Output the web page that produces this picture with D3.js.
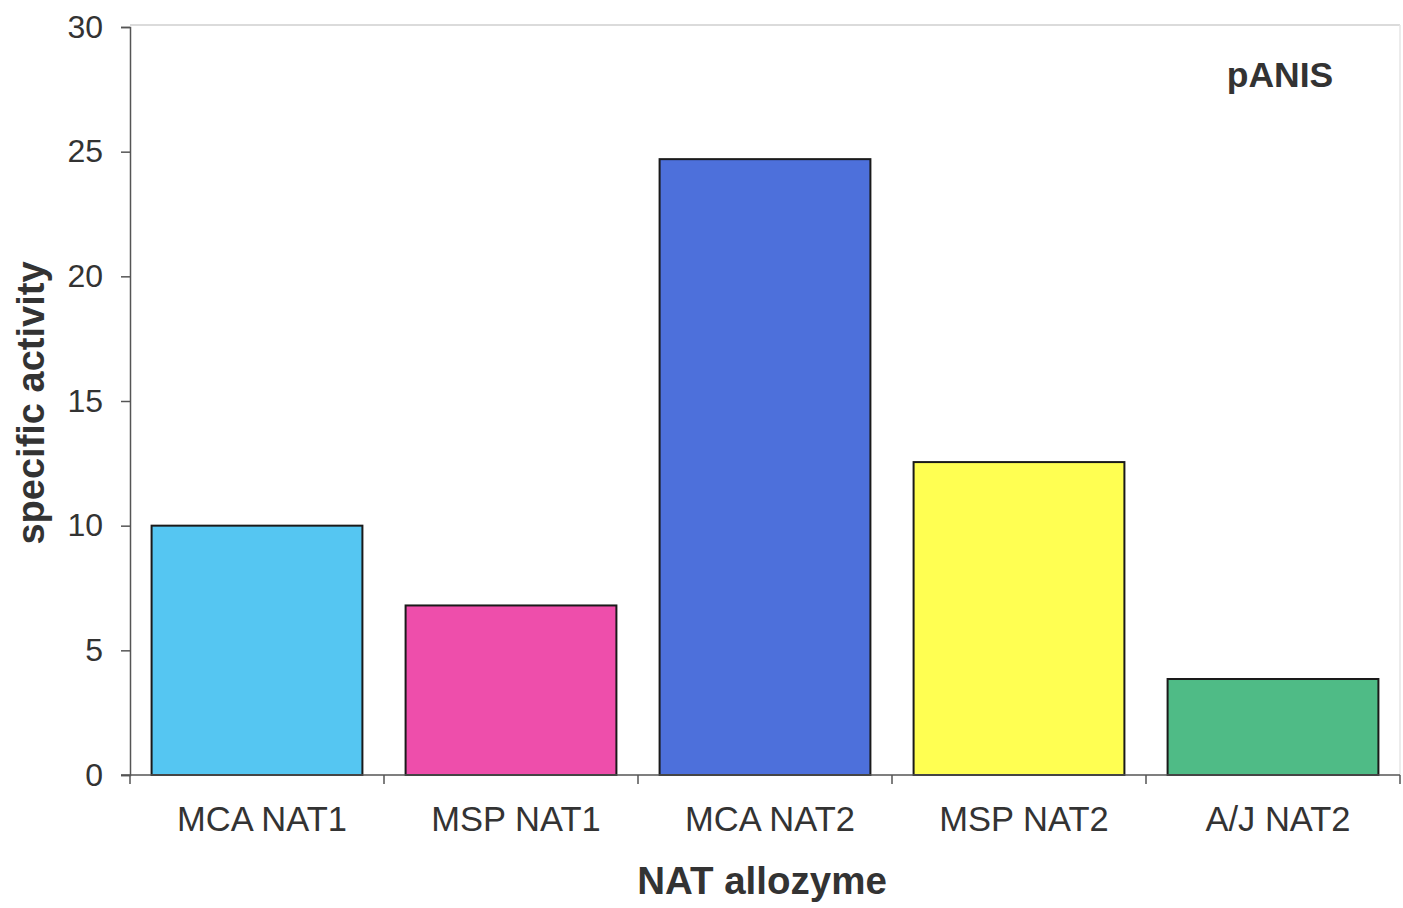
<!DOCTYPE html>
<html>
<head>
<meta charset="utf-8">
<script src="https://d3js.org/d3.v7.min.js"></script>
<style>
  html, body { margin: 0; padding: 0; background: #fff; }
  svg { display: block; }
</style>
</head>
<body>
<script>
const categories = ["MCA NAT1", "MSP NAT1", "MCA NAT2", "MSP NAT2", "A/J NAT2"];
const values = [10.0, 6.8, 24.7, 12.55, 3.85];
const colors = ["#55c6f2", "#ee4eab", "#4d70db", "#ffff52", "#4fbb86"];
const yTicks = [0, 5, 10, 15, 20, 25, 30];
const seriesLabel = "pANIS";
const xTitle = "NAT allozyme";
const yTitle = "specific activity";

(function () {
const W = 1403, H = 908;
const mLeft = 130, mRight = 1400, mTop = 27, mBottom = 775;

const svg = d3.select("body").append("svg").attr("width", W).attr("height", H);

const x = d3.scaleBand().domain(categories).range([mLeft, mRight]).paddingInner(0.17).paddingOuter(0.085);
const y = d3.scaleLinear().domain([0, 30]).range([mBottom, mTop]);

// frame (top and right light borders)
svg.append("line").attr("x1", mLeft).attr("x2", mRight).attr("y1", mTop - 2).attr("y2", mTop - 2)
  .attr("stroke", "#cfcfcf").attr("stroke-width", 1.5);
svg.append("line").attr("x1", mRight).attr("x2", mRight).attr("y1", mTop - 2).attr("y2", mBottom)
  .attr("stroke", "#e6e6e6").attr("stroke-width", 1.5);

// bars
svg.selectAll("rect.bar").data(categories).enter().append("rect")
  .attr("class", "bar")
  .attr("x", d => x(d))
  .attr("width", x.bandwidth())
  .attr("y", (d, i) => y(values[i]))
  .attr("height", (d, i) => y(0) - y(values[i]))
  .attr("fill", (d, i) => colors[i])
  .attr("stroke", "#1a1a1a")
  .attr("stroke-width", 2);

// y axis
const yAxis = d3.axisLeft(y).tickValues(yTicks).tickSize(9).tickPadding(18).tickFormat(d3.format("d"));
const gy = svg.append("g").attr("transform", `translate(${mLeft},0)`).call(yAxis);
gy.select(".domain").attr("stroke", "#555").attr("stroke-width", 1.5);
gy.selectAll(".tick line").attr("stroke", "#555").attr("stroke-width", 1.5);
gy.selectAll(".tick text").attr("fill", "#333").attr("font-family", "Liberation Sans, Arial, sans-serif").attr("font-size", 32);

// x axis
const gx = svg.append("g").attr("transform", `translate(0,${mBottom})`);
gx.append("line").attr("x1", mLeft - 9).attr("x2", mRight).attr("y1", 0).attr("y2", 0)
  .attr("stroke", "#555").attr("stroke-width", 1.5);
const edges = [mLeft].concat(categories.slice(1).map(c => x(c) - (x.step() - x.bandwidth()) / 2)).concat([mRight]);
gx.selectAll("line.tk").data(edges).enter().append("line").attr("class", "tk")
  .attr("x1", d => d).attr("x2", d => d).attr("y1", 0).attr("y2", 9)
  .attr("stroke", "#555").attr("stroke-width", 1.5);
gx.selectAll("text.cat").data(categories).enter().append("text").attr("class", "cat")
  .attr("x", d => x(d) + x.bandwidth() / 2 + 5)
  .attr("y", 56)
  .attr("text-anchor", "middle")
  .attr("fill", "#333")
  .attr("font-family", "Liberation Sans, Arial, sans-serif")
  .attr("font-size", 34.5)
  .text(d => d);

// titles
svg.append("text").attr("x", 762).attr("y", 894).attr("text-anchor", "middle")
  .attr("fill", "#333").attr("font-family", "Liberation Sans, Arial, sans-serif")
  .attr("font-weight", "bold").attr("font-size", 38.5).text(xTitle);
svg.append("text").attr("transform", "translate(44,403) rotate(-90)").attr("text-anchor", "middle")
  .attr("fill", "#333").attr("font-family", "Liberation Sans, Arial, sans-serif")
  .attr("font-weight", "bold").attr("font-size", 38).text(yTitle);
svg.append("text").attr("x", 1280).attr("y", 87).attr("text-anchor", "middle")
  .attr("fill", "#333").attr("font-family", "Liberation Sans, Arial, sans-serif")
  .attr("font-weight", "bold").attr("font-size", 35.5).text(seriesLabel);
})();
</script>
</body>
</html>
